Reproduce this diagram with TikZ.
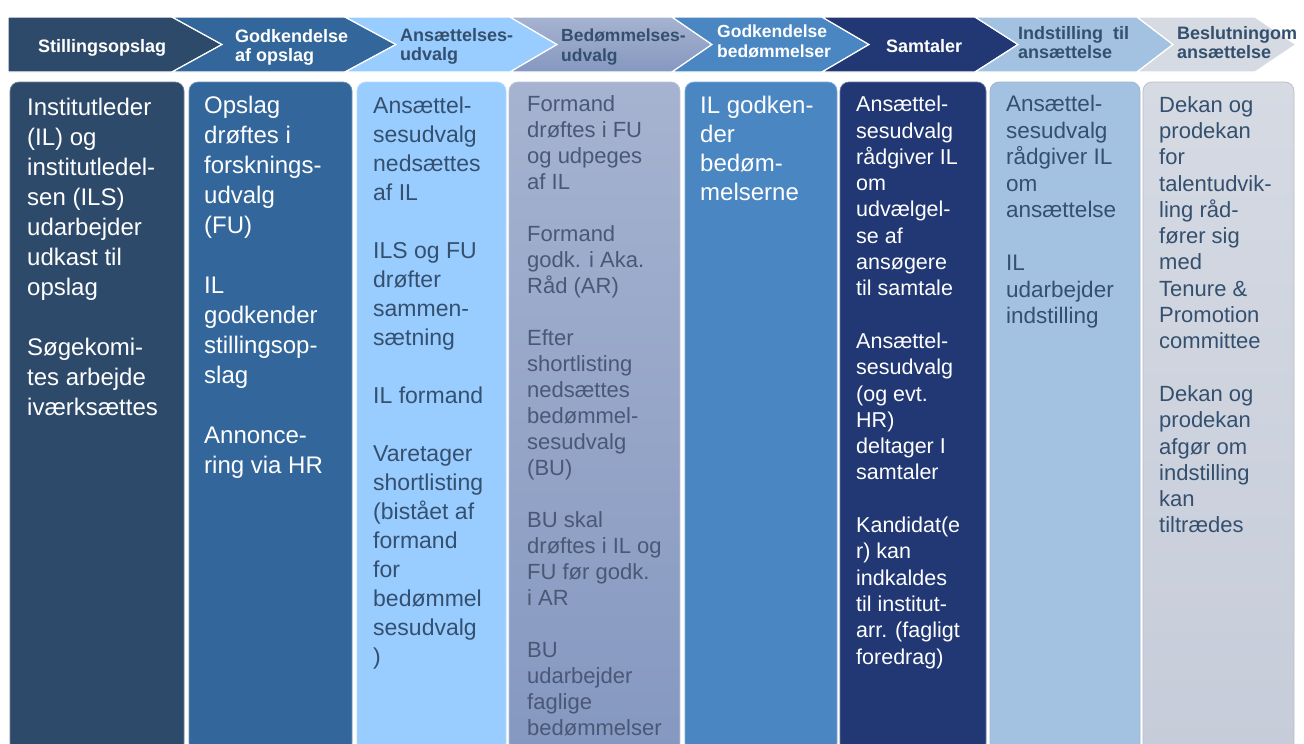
\documentclass[tikz,border=0pt]{standalone}
\usepackage{fontspec}
\setmainfont{Liberation Sans}
\definecolor{stepA}{HTML}{2E4A6B}
\definecolor{stepB}{HTML}{33669A}
\definecolor{stepC}{HTML}{99CCFF}
\definecolor{stepDtop}{HTML}{A6B3D0}
\definecolor{stepDbot}{HTML}{8598C0}
\definecolor{stepE}{HTML}{4A86C2}
\definecolor{stepF}{HTML}{213874}
\definecolor{stepG}{HTML}{A3C2E2}
\definecolor{stepHtop}{HTML}{D5DAE3}
\definecolor{stepHbot}{HTML}{C6CCD9}
\definecolor{darktext}{HTML}{34506E}
\definecolor{greytext}{HTML}{4A5877}
\begin{document}
\begin{tikzpicture}[x=1pt,y=-1pt,
  chevron/.style={draw=white, line width=1.2pt},
  colbox/.style={rounded corners=9pt, line width=0.7pt},
  chevtext/.style={anchor=north west, inner sep=0pt, align=left, font=\bfseries\fontsize{18}{19.5}\selectfont},
  bigtext/.style={anchor=north west, inner sep=0pt, align=left, font=\fontsize{24}{30}\selectfont},
  midtext/.style={anchor=north west, inner sep=0pt, align=left, font=\fontsize{23}{29}\selectfont},
  smalltext/.style={anchor=north west, inner sep=0pt, align=left, font=\fontsize{22}{26.3}\selectfont}]
\useasboundingbox[fill=white] (0,0) rectangle (1304,744);

% header chevrons
\draw[chevron, fill=stepA] (8,17) -- (172,17) -- (222,44.5) -- (172,72) -- (8,72) -- cycle;
\draw[chevron, fill=stepB] (172,17) -- (345,17) -- (396,44.5) -- (345,72) -- (172,72) -- (222,44.5) -- cycle;
\draw[chevron, fill=stepC] (345,17) -- (510,17) -- (557,44.5) -- (510,72) -- (345,72) -- (396,44.5) -- cycle;
\draw[chevron, top color=stepDtop, bottom color=stepDbot] (510,17) -- (672,17) -- (712,44.5) -- (672,72) -- (510,72) -- (557,44.5) -- cycle;
\draw[chevron, fill=stepE] (672,17) -- (822,17) -- (869,44.5) -- (822,72) -- (672,72) -- (712,44.5) -- cycle;
\draw[chevron, fill=stepF] (822,17) -- (975,17) -- (1018,44.5) -- (975,72) -- (822,72) -- (869,44.5) -- cycle;
\draw[chevron, fill=stepG] (975,17) -- (1137,17) -- (1173,44.5) -- (1137,72) -- (975,72) -- (1018,44.5) -- cycle;
\draw[chevron, fill=stepHtop] (1137,17) -- (1255,17) -- (1296,44.5) -- (1255,72) -- (1137,72) -- (1173,44.5) -- cycle;

\node[chevtext, text=white, anchor=base west] (hstilling) at (38,52) {Stillingsopslag};
\node[chevtext, text=white] (hgodkend) at (235,29) {Godkendelse\\af opslag};
\node[chevtext, text=darktext] (hansudv) at (400,28) {Ansættelses-\\udvalg};
\node[chevtext, text=darktext, font=\bfseries\fontsize{17.5}{19.5}\selectfont] (hbedudv) at (561,29) {Bedømmelses-\\udvalg};
\node[chevtext, text=white, font=\bfseries\fontsize{17.5}{19.5}\selectfont] (hgodkbed) at (717,25) {Godkendelse\\bedømmelser};
\node[chevtext, text=white, anchor=base west] (hsamtale) at (886,52) {Samtaler};
\node[chevtext, text=darktext] (hindst) at (1018,26) {Indstilling\hspace{5pt} til\\ansættelse};
\node[chevtext, text=darktext] (hbeslut) at (1177,26) {Beslutningom\\ansættelse};

% columns
\draw[colbox, fill=stepA, draw=stepA!70!white] (10,82) rectangle (184,752);
\draw[colbox, fill=stepB, draw=stepB!70!white] (189,82) rectangle (352,752);
\draw[colbox, fill=stepC, draw=stepC!70!white] (357,82) rectangle (506,752);
\draw[colbox, top color=stepDtop, bottom color=stepDbot, draw=stepDtop!80!white] (509,82) rectangle (680,752);
\draw[colbox, fill=stepE, draw=stepE!70!white] (685,82) rectangle (837,752);
\draw[colbox, fill=stepF, draw=stepF!70!white] (840,82) rectangle (986,752);
\draw[colbox, fill=stepG, draw=stepG!80!gray] (990,82) rectangle (1140,752);
\draw[colbox, top color=stepHtop, bottom color=stepHbot, draw=stepHbot!80!gray] (1143,82) rectangle (1294,752);

\node[bigtext, text=white] (tstilling) at (27,98) {Institutleder\\(IL) og\\institutledel-\\sen (ILS)\\udarbejder\\udkast til\\opslag\\[\baselineskip]Søgekomi-\\tes arbejde\\iværksættes};
\node[bigtext, text=white] (tgodkend) at (204,96) {Opslag\\drøftes i\\forsknings-\\udvalg\\(FU)\\[\baselineskip]IL\\godkender\\stillingsop-\\slag\\[\baselineskip]Annonce-\\ring via HR};
\node[midtext, text=darktext] (tansudv) at (373,97) {Ansættel-\\sesudvalg\\nedsættes\\af IL\\[\baselineskip]ILS og FU\\drøfter\\sammen-\\sætning\\[\baselineskip]IL formand\\[\baselineskip]Varetager\\shortlisting\\(bistået af\\formand\\for\\bedømmel\\sesudvalg\\)};
\node[smalltext, text=greytext, font=\fontsize{22}{26}\selectfont] (tbedudv) at (527,95) {Formand\\drøftes i FU\\og udpeges\\af IL\\[\baselineskip]Formand\\godk. i Aka.\\Råd (AR)\\[\baselineskip]Efter\\shortlisting\\nedsættes\\bedømmel-\\sesudvalg\\(BU)\\[\baselineskip]BU skal\\drøftes i IL og\\FU før godk.\\i AR\\[\baselineskip]BU\\udarbejder\\faglige\\bedømmelser};
\node[bigtext, text=white, font=\fontsize{24}{29}\selectfont] (tgodkbed) at (700,96) {IL godken-\\der\\bedøm-\\melserne};
\node[smalltext, text=white, font=\fontsize{21.5}{26.3}\selectfont] (tsamtale) at (856,96) {Ansættel-\\sesudvalg\\rådgiver IL\\om\\udvælgel-\\se af\\ansøgere\\til samtale\\[\baselineskip]Ansættel-\\sesudvalg\\(og evt.\\HR)\\deltager I\\samtaler\\[\baselineskip]Kandidat(e\\r) kan\\indkaldes\\til institut-\\arr. (fagligt\\foredrag)};
\node[smalltext, text=darktext, font=\fontsize{22.5}{26.5}\selectfont] (tindst) at (1006,95) {Ansættel-\\sesudvalg\\rådgiver IL\\om\\ansættelse\\[\baselineskip]IL\\udarbejder\\indstilling};
\node[smalltext, text=darktext] (tbeslut) at (1159,96) {Dekan og\\prodekan\\for\\talentudvik-\\ling råd-\\fører sig\\med\\Tenure \&\\Promotion\\committee\\[\baselineskip]Dekan og\\prodekan\\afgør om\\indstilling\\kan\\tiltrædes};
\end{tikzpicture}
\end{document}
